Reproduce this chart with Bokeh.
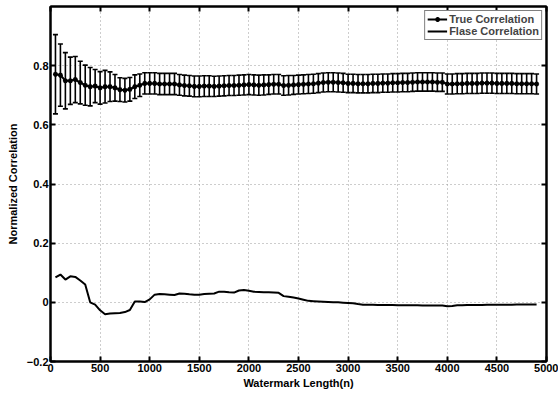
from bokeh.plotting import figure
from bokeh.models import (ColumnDataSource, Whisker, TeeHead, LinearAxis,
                          FixedTicker, Range1d)
from bokeh.embed import file_html
from bokeh.resources import INLINE

# ---------------- data ----------------
x_len = [50, 100, 150, 200, 250, 300, 350, 400, 450, 500,
         550, 600, 650, 700, 750, 800, 850, 900, 950, 1000,
         1050, 1100, 1150, 1200, 1250, 1300, 1350, 1400, 1450, 1500,
         1550, 1600, 1650, 1700, 1750, 1800, 1850, 1900, 1950, 2000,
         2050, 2100, 2150, 2200, 2250, 2300, 2350, 2400, 2450, 2500,
         2550, 2600, 2650, 2700, 2750, 2800, 2850, 2900, 2950, 3000,
         3050, 3100, 3150, 3200, 3250, 3300, 3350, 3400, 3450, 3500,
         3550, 3600, 3650, 3700, 3750, 3800, 3850, 3900, 3950, 4000,
         4050, 4100, 4150, 4200, 4250, 4300, 4350, 4400, 4450, 4500,
         4550, 4600, 4650, 4700, 4750, 4800, 4850, 4900]

true_mean = [0.771, 0.768, 0.749, 0.749, 0.753, 0.743, 0.734, 0.729, 0.731, 0.725,
             0.729, 0.729, 0.725, 0.719, 0.717, 0.720, 0.729, 0.734, 0.740, 0.740,
             0.740, 0.738, 0.738, 0.738, 0.738, 0.735, 0.733, 0.732, 0.730, 0.730,
             0.731, 0.731, 0.730, 0.731, 0.732, 0.733, 0.733, 0.734, 0.735, 0.736,
             0.735, 0.734, 0.735, 0.736, 0.737, 0.737, 0.733, 0.734, 0.735, 0.736,
             0.737, 0.738, 0.739, 0.741, 0.743, 0.744, 0.744, 0.743, 0.742, 0.740,
             0.740, 0.739, 0.739, 0.739, 0.740, 0.740, 0.741, 0.741, 0.742, 0.742,
             0.743, 0.743, 0.744, 0.745, 0.745, 0.745, 0.745, 0.744, 0.744, 0.738,
             0.738, 0.739, 0.739, 0.740, 0.740, 0.740, 0.741, 0.741, 0.741, 0.740,
             0.740, 0.740, 0.740, 0.739, 0.739, 0.739, 0.739, 0.738]

true_err = [0.134, 0.105, 0.095, 0.080, 0.078, 0.072, 0.068, 0.065, 0.056, 0.055,
            0.055, 0.050, 0.045, 0.040, 0.040, 0.040, 0.040, 0.038, 0.036, 0.036,
            0.036, 0.036, 0.036, 0.036, 0.036, 0.035, 0.035, 0.035, 0.035, 0.035,
            0.035, 0.035, 0.034, 0.034, 0.034, 0.034, 0.034, 0.034, 0.034, 0.034,
            0.034, 0.034, 0.034, 0.033, 0.033, 0.033, 0.033, 0.033, 0.032, 0.032,
            0.032, 0.032, 0.032, 0.032, 0.032, 0.032, 0.032, 0.032, 0.032, 0.031,
            0.031, 0.031, 0.031, 0.031, 0.031, 0.031, 0.031, 0.031, 0.031, 0.031,
            0.031, 0.031, 0.031, 0.031, 0.031, 0.031, 0.031, 0.031, 0.031, 0.034,
            0.034, 0.034, 0.034, 0.034, 0.034, 0.034, 0.034, 0.034, 0.034, 0.034,
            0.034, 0.034, 0.034, 0.034, 0.034, 0.034, 0.034, 0.034]

false_corr = [0.084, 0.094, 0.077, 0.088, 0.086, 0.074, 0.060, 0.000, -0.008, -0.027,
              -0.040, -0.038, -0.037, -0.036, -0.033, -0.026, 0.003, 0.003, 0.001, 0.010,
              0.026, 0.028, 0.027, 0.026, 0.025, 0.030, 0.029, 0.027, 0.026, 0.026,
              0.028, 0.029, 0.030, 0.036, 0.036, 0.034, 0.033, 0.040, 0.042, 0.039,
              0.036, 0.035, 0.034, 0.034, 0.033, 0.032, 0.021, 0.019, 0.016, 0.013,
              0.009, 0.005, 0.004, 0.003, 0.002, 0.001, 0.000, 0.000, -0.001, -0.002,
              -0.003, -0.006, -0.008, -0.008, -0.008, -0.009, -0.009, -0.009, -0.009, -0.010,
              -0.010, -0.010, -0.010, -0.010, -0.011, -0.011, -0.011, -0.011, -0.011, -0.013,
              -0.012, -0.010, -0.010, -0.009, -0.009, -0.009, -0.009, -0.008, -0.008, -0.008,
              -0.008, -0.008, -0.008, -0.007, -0.007, -0.007, -0.007, -0.007]

x_ticks = [0, 500, 1000, 1500, 2000, 2500, 3000, 3500, 4000, 4500, 5000]
y_ticks = [-0.2, 0, 0.2, 0.4, 0.6, 0.8]
y_tick_labels = ["\u22120.2", "0", "0.2", "0.4", "0.6", "0.8"]

# ---------------- figure ----------------
FONT = "Liberation Sans"

src = ColumnDataSource(dict(
    x=x_len, mean=true_mean,
    upper=[m + e for m, e in zip(true_mean, true_err)],
    lower=[m - e for m, e in zip(true_mean, true_err)],
    false=false_corr))

p = figure(width=558, height=394, x_range=Range1d(0, 5000), y_range=Range1d(-0.2, 1.0),
           output_backend="svg", toolbar_location=None,
           min_border_left=50, min_border_right=12, min_border_top=6, min_border_bottom=33)
p.background_fill_color = "white"
p.border_fill_color = "white"
p.outline_line_color = "black"
p.outline_line_width = 2

# grid
for g in (p.xgrid, p.ygrid):
    g.grid_line_color = "#9a9a9a"
    g.grid_line_dash = "1 3"
    g.grid_line_width = 1
p.xgrid.ticker = FixedTicker(ticks=x_ticks)
p.ygrid.ticker = FixedTicker(ticks=y_ticks)

def style_axis(ax, ticks, show_labels=True):
    ax.ticker = FixedTicker(ticks=ticks)
    ax.axis_line_width = 2
    ax.axis_line_color = "black"
    ax.major_tick_in = 5
    ax.major_tick_out = 0
    ax.major_tick_line_width = 2
    ax.minor_tick_line_color = None
    ax.major_label_text_font = FONT
    ax.major_label_text_font_style = "bold"
    ax.major_label_text_font_size = "11px" if show_labels else "1px"
    ax.major_label_text_color = "black" if show_labels else None
    ax.major_label_standoff = 2 if show_labels else 0
    ax.axis_label_text_font = FONT
    ax.axis_label_text_font_style = "bold"
    ax.axis_label_text_font_size = "11px"
    ax.axis_label_text_color = "black"
    ax.axis_label_standoff = 2

xa = p.xaxis[0]
ya = p.yaxis[0]
style_axis(xa, x_ticks)
style_axis(ya, y_ticks)
xa.axis_label = "Watermark Length(n)"
ya.axis_label = "Normalized Correlation"
ya.axis_label_standoff = 5
ya.major_label_overrides = {t: l for t, l in zip(y_ticks, y_tick_labels)}

top_ax = LinearAxis()
style_axis(top_ax, x_ticks, show_labels=False)
p.add_layout(top_ax, "above")
right_ax = LinearAxis()
style_axis(right_ax, y_ticks, show_labels=False)
p.add_layout(right_ax, "right")

# error bars
wh = Whisker(base="x", upper="upper", lower="lower", source=src,
             line_color="black", line_width=1.6,
             upper_head=TeeHead(size=5, line_color="black", line_width=1.6),
             lower_head=TeeHead(size=5, line_color="black", line_width=1.6))
p.add_layout(wh)

p.line("x", "mean", source=src, line_color="black", line_width=2,
       legend_label="True Correlation")
p.scatter("x", "mean", source=src, marker="asterisk", size=5, line_color="black",
          line_width=1.5, legend_label="True Correlation")
p.line("x", "false", source=src, line_color="black", line_width=2,
       legend_label="Flase Correlation")

lg = p.legend[0]
lg.location = "top_right"
lg.border_line_color = "black"
lg.border_line_width = 1
lg.background_fill_color = "white"
lg.background_fill_alpha = 1
lg.label_text_font = FONT
lg.label_text_font_style = "bold"
lg.label_text_font_size = "11px"
lg.label_height = 12
lg.glyph_height = 12
lg.glyph_width = 20
lg.label_standoff = 2
lg.padding = 2
lg.spacing = 0
lg.margin = 4

open("out.html", "w").write(file_html(p, INLINE))
